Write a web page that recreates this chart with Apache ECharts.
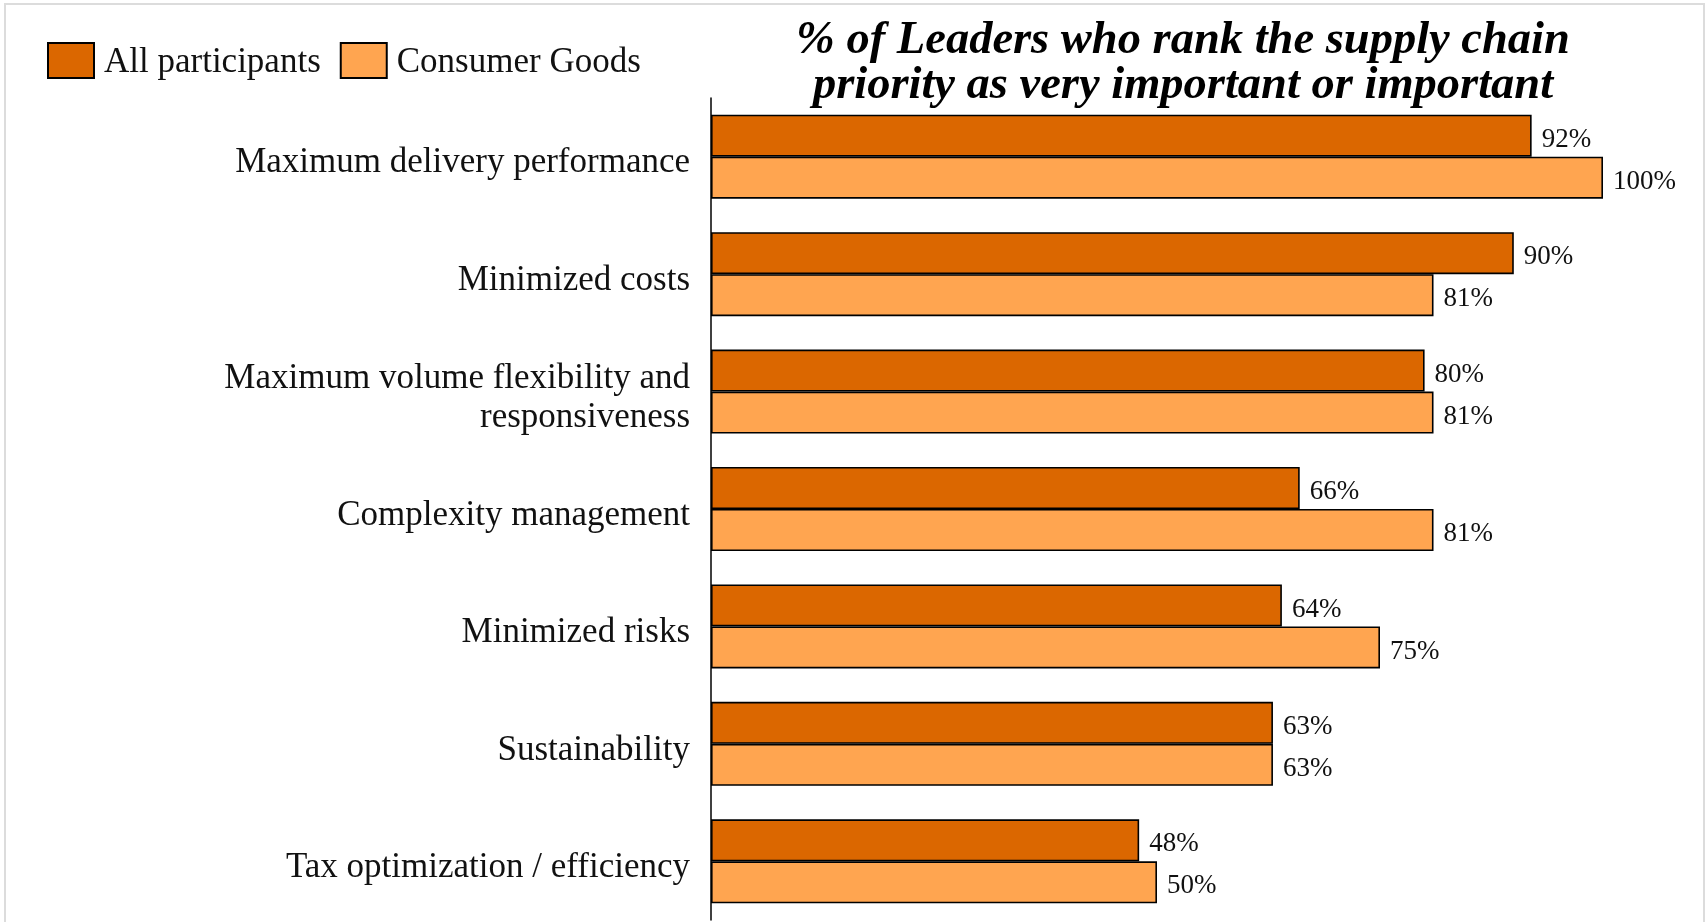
<!DOCTYPE html>
<html>
<head>
<meta charset="utf-8">
<style>
  html, body { margin: 0; padding: 0; background: #fff; }
  #chart { width: 1705px; height: 922px; }
</style>
<script src="https://cdn.jsdelivr.net/npm/echarts@6/dist/echarts.min.js"></script>
</head>
<body>
<div id="chart"></div>
<script>
// Supply chain priorities ranked "very important" or "important"
const categories = [
  'Maximum delivery performance',
  'Minimized costs',
  'Maximum volume flexibility and\nresponsiveness',
  'Complexity management',
  'Minimized risks',
  'Sustainability',
  'Tax optimization / efficiency'
];
const allParticipants = [92, 90, 80, 66, 64, 63, 48];
const consumerGoods = [100, 81, 81, 81, 75, 63, 50];
const seriesNames = ['All participants', 'Consumer Goods'];
const titleText = '% of Leaders who rank the supply chain\npriority as very important or important';

const serif = '"Liberation Serif", "DejaVu Serif", serif';
const darkOrange = '#DB6700';
const lightOrange = '#FFA550';

const chart = echarts.init(document.getElementById('chart'));

function barSeries(name, values, color) {
  return {
    name: name,
    type: 'bar',
    data: values,
    barWidth: 42,
    barGap: '0%',
    itemStyle: { color: color, borderColor: '#000', borderWidth: 1.6 },
    label: {
      show: true,
      position: 'right',
      distance: 10,
      offset: [0, 4],
      formatter: '{c}%',
      fontFamily: serif,
      fontSize: 27,
      color: '#111'
    }
  };
}

// Category labels: every line carries a top pad so the text sits slightly low
function categoryLabel(value) {
  return value.split('\n').map(s => '{cat|' + s + '}').join('\n');
}

chart.setOption({
  animation: false,
  backgroundColor: '#fff',
  title: {
    text: titleText,
    left: 1183,
    top: 18,
    padding: 0,
    textAlign: 'center',
    textStyle: {
      fontFamily: serif,
      fontStyle: 'italic',
      fontWeight: 'bold',
      fontSize: 46.5,
      lineHeight: 45,
      color: '#000'
    }
  },
  legend: {
    left: 47,
    top: 41,
    padding: 0,
    itemWidth: 46,
    itemHeight: 35,
    itemGap: 19,
    icon: 'rect',
    itemStyle: { borderColor: '#000', borderWidth: 2 },
    formatter: name => '{t|' + name + '}',
    textStyle: {
      rich: {
        t: { fontFamily: serif, fontSize: 35, lineHeight: 39, color: '#111', padding: [4, 0, 0, 5] }
      }
    },
    data: seriesNames
  },
  grid: { left: 711, right: 102, top: 98, bottom: 2, containLabel: false },
  xAxis: {
    type: 'value',
    min: 0,
    max: 100,
    show: false
  },
  yAxis: {
    type: 'category',
    data: categories,
    inverse: true,
    axisLine: { show: true, lineStyle: { color: '#000', width: 1.5 } },
    axisTick: { show: false },
    axisLabel: {
      margin: 21,
      align: 'right',
      formatter: categoryLabel,
      rich: {
        cat: { fontFamily: serif, fontSize: 35, lineHeight: 39, color: '#111', align: 'right', padding: [13, 0, 0, 0] }
      }
    }
  },
  graphic: [{
    type: 'rect',
    silent: true,
    shape: { x: 5, y: 4, width: 1699, height: 940 },
    style: { fill: 'none', stroke: '#dcdcdc', lineWidth: 2 }
  }],
  series: [
    barSeries(seriesNames[0], allParticipants, darkOrange),
    barSeries(seriesNames[1], consumerGoods, lightOrange)
  ]
});
</script>
</body>
</html>
